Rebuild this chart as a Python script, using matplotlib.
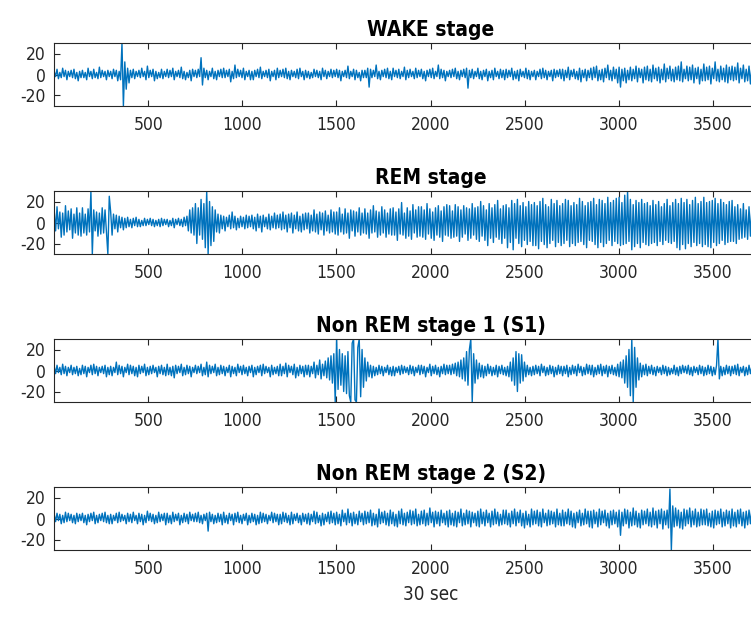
import numpy as np
import matplotlib as mpl
mpl.use('Agg')
import matplotlib.pyplot as plt

# Panel titles and axis labels
titles = ['WAKE stage', 'REM stage', 'Non REM stage 1 (S1)', 'Non REM stage 2 (S2)']
x_label = '30 sec'
x_ticks = [500, 1000, 1500, 2000, 2500, 3000, 3500]
y_ticks = [-20, 0, 20]

# values every 7.5 samples (500 per panel, 20 per row = 150 samples)
step = 7.5

wake = [3, -2, 5, -4, 2, -3, 6, -2, 4, -5, 3, -2, 4, -3, 5, -4, 2, -6, 3, -3,
        4, -3, 2, -5, 6, -2, 3, -4, 5, -3, 2, -4, 7, -3, 4, -2, 3, -5, 4, -2,
        3, -4, 5, -2, 4, -6, 3, -5, 30, -30, 12, -14, 6, -8, 4, -3, 5, -4, 3, -2,
        4, -3, 6, -2, 3, -5, 8, -3, 4, -2, 5, -6, 3, -4, 2, -3, 5, -4, 3, -2,
        5, -3, 4, -2, 6, -5, 3, -2, 4, -3, 7, -4, 3, -5, 2, -3, 4, -6, 5, -2,
        4, -3, 5, -2, 16, -10, 6, -3, 4, -5, 3, -2, 6, -4, 3, -5, 4, -2, 5, -3,
        6, -3, 4, -2, 5, -7, 3, -4, 9, -3, 5, -2, 4, -3, 6, -5, 3, -2, 4, -5,
        3, -5, 4, -2, 5, -3, 7, -4, 3, -2, 4, -3, 5, -6, 3, -2, 4, -5, 6, -3,
        4, -2, 5, -3, 6, -4, 3, -5, 4, -2, 3, -3, 5, -4, 6, -2, 3, -5, 4, -3,
        3, -4, 2, -3, 5, -2, 4, -3, 3, -5, 6, -2, 4, -4, 3, -2, 5, -3, 4, -2,
        5, -3, 4, -6, 3, -2, 4, -3, 8, -4, 3, -2, 5, -5, 4, -3, 2, -6, 4, -3,
        4, -3, 6, -12, 5, -3, 4, -2, 9, -4, 3, -5, 4, -2, 5, -3, 6, -4, 3, -5,
        6, -2, 4, -3, 5, -4, 3, -2, 7, -5, 4, -3, 5, -2, 3, -4, 6, -3, 4, -2,
        5, -4, 3, -6, 4, -2, 5, -3, 6, -4, 3, -2, 9, -4, 5, -3, 4, -6, 3, -2,
        4, -3, 5, -2, 6, -4, 3, -5, 4, -2, 5, -3, 6, -13, 4, -3, 5, -4, 3, -2,
        6, -4, 3, -5, 4, -2, 5, -6, 3, -3, 4, -5, 6, -2, 3, -4, 5, -3, 4, -5,
        5, -3, 4, -2, 6, -5, 3, -4, 4, -6, 5, -2, 3, -3, 6, -4, 4, -5, 3, -2,
        4, -5, 3, -2, 5, -4, 6, -3, 4, -5, 3, -2, 4, -6, 5, -3, 4, -2, 5, -4,
        5, -6, 4, -3, 7, -5, 4, -2, 5, -4, 3, -5, 6, -7, 4, -3, 5, -6, 4, -3,
        6, -5, 7, -3, 8, -6, 4, -5, 5, -7, 6, -3, 9, -5, 4, -6, 7, -4, 5, -8,
        7, -12, 5, -6, 6, -8, 4, -5, 7, -6, 5, -4, 8, -7, 6, -3, 5, -8, 7, -5,
        8, -6, 5, -7, 9, -4, 6, -6, 7, -8, 5, -5, 10, -7, 6, -4, 8, -6, 5, -7,
        7, -5, 8, -6, 12, -7, 5, -4, 8, -6, 7, -5, 9, -8, 6, -4, 7, -9, 5, -6,
        10, -6, 7, -5, 8, -9, 6, -4, 12, -6, 5, -7, 8, -5, 6, -7, 9, -8, 7, -5,
        8, -6, 7, -5, 11, -8, 6, -4, 9, -7, 5, -6, 8, -9, 7, -5, 10, -7, 6, -5]

rem = [12, -8, 15, -6, 10, -14, 9, -12, 16, -9, 11, -7, 13, -15, 8, -10, 14, -12, 9, -13,
       14, -10, 8, -12, 13, -9, 30, -30, 12, -8, 10, -13, 9, -11, 14, -10, 12, -9, -30, 25,
       10, -12, 8, -6, 7, -9, 6, -5, 5, -7, 4, -5, 5, -4, 3, -5, 4, -3, 5, -4,
       3, -4, 2, -3, 4, -3, 3, -2, 4, -3, 3, -4, 2, -3, 3, -4, 4, -3, 3, -2,
       3, -4, 2, -3, 4, -5, 3, -2, 4, -3, 3, -4, 5, -3, 6, -8, 12, -10, 14, -12,
       18, -20, 14, -12, 22, -16, 18, -24, 30, -30, 20, -22, 15, -18, 12, -9, 8, -10, 7, -6,
       6, -8, 5, -4, 7, -6, 10, -5, 6, -7, 4, -5, 6, -4, 5, -6, 7, -5, 6, -4,
       7, -6, 5, -8, 8, -5, 6, -9, 7, -4, 5, -6, 8, -7, 6, -5, 9, -6, 7, -5,
       8, -7, 10, -6, 7, -9, 8, -5, 9, -10, 7, -6, 10, -8, 6, -9, 8, -7, 9, -6,
       9, -10, 7, -8, 12, -9, 8, -11, 10, -7, 9, -12, 11, -8, 7, -10, 12, -9, 10, -11,
       10, -12, 14, -9, 8, -11, 13, -10, 9, -15, 12, -8, 11, -13, 10, -9, 14, -12, 9, -10,
       13, -11, 9, -15, 12, -10, 16, -9, 11, -14, 10, -12, 15, -10, 12, -14, 9, -11, 13, -12,
       14, -12, 10, -17, 13, -11, 19, -12, 9, -15, 14, -13, 11, -16, 17, -10, 12, -14, 15, -13,
       15, -14, 12, -16, 18, -11, 13, -15, 10, -17, 14, -12, 16, -14, 11, -18, 15, -12, 17, -13,
       16, -15, 11, -14, 17, -13, 15, -18, 12, -14, 16, -11, 14, -17, 13, -15, 18, -12, 14, -16,
       15, -18, 20, -13, 16, -17, 12, -22, 18, -15, 14, -19, 17, -14, 21, -16, 13, -20, 16, -15,
       17, -24, 14, -19, 21, -26, 18, -15, 22, -20, 16, -23, 19, -17, 15, -21, 20, -18, 17, -22,
       19, -22, 16, -25, 20, -18, 23, -21, 17, -24, 15, -20, 22, -17, 18, -23, 21, -19, 16, -22,
       18, -20, 22, -17, 21, -23, 16, -20, 19, -22, 17, -19, 23, -18, 20, -21, 16, -24, 19, -17,
       20, -18, 23, -21, 17, -24, 22, -19, 21, -23, 18, -20, 24, -17, 19, -22, 21, -18, 23, -20,
       24, -22, 19, -21, 26, -20, 30, -18, 22, -26, 17, -23, 21, -20, 19, -24, 22, -19, 18, -21,
       19, -22, 16, -20, 21, -19, 17, -22, 20, -18, 15, -21, 18, -17, 22, -19, 16, -20, 19, -18,
       22, -24, 18, -26, 23, -21, 19, -25, 22, -20, 17, -23, 21, -19, 24, -22, 18, -20, 20, -23,
       24, -21, 19, -23, 20, -24, 21, -19, 23, -22, 18, -20, 22, -17, 19, -21, 17, -19, 20, -18,
       21, -18, 15, -20, 17, -16, 13, -15, 18, -14, 12, -16, 15, -13, 14, -12, 16, -14, 13, -15]

s1 = [4, -3, 5, -2, 3, -4, 6, -3, 4, -5, 3, -2, 5, -4, 3, -3, 4, -5, 2, -4,
      5, -3, 4, -6, 3, -2, 5, -4, 6, -3, 4, -5, 3, -2, 4, -3, 5, -6, 3, -4,
      4, -5, 3, -2, 8, -4, 5, -3, 4, -6, 3, -2, 6, -4, 5, -3, 4, -5, 3, -6,
      5, -3, 4, -2, 6, -5, 3, -4, 4, -3, 5, -2, 3, -6, 4, -3, 5, -4, 3, -5,
      6, -4, 3, -5, 4, -7, 5, -3, 4, -2, 6, -5, 3, -4, 5, -3, 4, -6, 3, -2,
      5, -3, 4, -2, 6, -5, 3, -4, 8, -6, 5, -3, 4, -2, 6, -5, 3, -4, 5, -3,
      4, -5, 3, -2, 5, -6, 4, -3, 3, -5, 6, -2, 4, -4, 5, -3, 3, -5, 4, -2,
      5, -6, 3, -4, 4, -2, 5, -5, 6, -3, 4, -2, 3, -6, 5, -4, 3, -3, 4, -5,
      6, -5, 4, -3, 7, -6, 5, -2, 4, -4, 6, -7, 3, -5, 5, -3, 4, -6, 5, -4,
      5, -6, 4, -3, 8, -7, 5, -4, 10, -8, 6, -5, 9, -7, 12, -9, 14, -12, 16, -30,
      30, -18, 20, -14, 16, -20, 14, -22, 18, -24, -30, 26, 30, -28, -30, 22, 30, -25, 20, -16,
      12, -10, 8, -6, 5, -7, 4, -5, 3, -4, 5, -3, 4, -5, 3, -2, 5, -4, 3, -5,
      4, -5, 3, -2, 4, -4, 5, -3, 4, -2, 3, -4, 5, -3, 4, -5, 3, -2, 5, -4,
      5, -3, 4, -6, 3, -2, 6, -5, 4, -3, 5, -4, 3, -6, 4, -3, 6, -4, 5, -3,
      5, -4, 6, -3, 7, -5, 8, -6, 10, -8, 12, -10, 18, -14, 20, 30, -30, 16, -12, 10,
      -8, 7, -6, 5, -7, 4, -5, 6, -3, 4, -5, 3, -4, 5, -6, 4, -3, 5, -4, 3,
      -5, 4, -6, 8, -10, 12, -14, 18, -20, 16, -12, 15, -10, 8, -6, 5, -4, 3, -5, 4,
      -4, 5, -3, 4, -5, 6, -2, 4, -5, 3, -4, 5, -3, 4, -6, 3, -4, 5, -3, 4,
      -5, 4, -3, 5, -6, 3, -4, 5, -3, 4, -5, 6, -2, 4, -5, 3, -4, 6, -3, 5,
      -4, 5, -6, 3, -4, 5, -3, 6, -5, 4, -3, 5, -6, 4, -3, 5, -4, 3, -5, 6,
      -6, 8, -7, 10, -12, 14, -16, 20, -24, 30, -30, 22, -16, 12, -9, 7, -6, 5, -4, 6,
      -5, 4, -3, 5, -4, 3, -5, 4, -2, 3, -4, 5, -3, 4, -5, 3, -4, 2, -3, 5,
      -4, 3, -5, 4, -3, 5, -2, 4, -3, 5, -4, 3, -5, 4, -2, 3, -4, 5, -3, 4,
      -5, 3, -4, 5, -3, 4, -5, 3, -4, 5, 30, -8, 4, -5, 3, -4, 5, -3, 4, -5,
      4, -3, 5, -4, 6, -5, 3, -2, 4, -5, 3, -4, 5, -3, 4, -2, 6, -4, 3, -5]

s2 = [4, -3, 5, -2, 4, -5, 3, -4, 6, -3, 5, -2, 4, -4, 3, -5, 5, -3, 4, -2,
      5, -4, 3, -6, 4, -3, 5, -2, 6, -5, 3, -4, 4, -2, 5, -3, 6, -4, 3, -5,
      4, -5, 3, -2, 5, -4, 6, -3, 4, -2, 3, -5, 5, -3, 4, -4, 6, -2, 3, -5,
      5, -3, 4, -6, 3, -4, 7, -2, 5, -3, 4, -5, 3, -4, 6, -3, 4, -2, 5, -6,
      5, -4, 3, -5, 6, -3, 4, -2, 5, -6, 3, -4, 5, -3, 4, -5, 6, -2, 4, -3,
      5, -3, 6, -4, 3, -5, 4, -2, 5, -12, 6, -3, 4, -5, 3, -4, 5, -3, 4, -6,
      6, -4, 3, -5, 5, -2, 4, -6, 5, -3, 6, -4, 3, -5, 4, -2, 5, -6, 3, -4,
      5, -3, 4, -6, 3, -5, 6, -4, 5, -3, 4, -5, 3, -2, 6, -4, 5, -3, 4, -6,
      4, -5, 6, -3, 5, -4, 3, -6, 6, -5, 4, -2, 5, -4, 3, -6, 5, -3, 4, -5,
      5, -6, 4, -3, 7, -5, 6, -4, 3, -7, 5, -6, 4, -3, 6, -5, 7, -4, 5, -6,
      6, -5, 4, -7, 8, -3, 5, -6, 9, -4, 5, -7, 6, -5, 4, -6, 7, -3, 5, -6,
      7, -5, 6, -4, 8, -7, 5, -6, 4, -8, 9, -5, 6, -4, 7, -6, 5, -7, 8, -5,
      6, -7, 4, -8, 7, -5, 9, -6, 5, -7, 6, -4, 8, -6, 7, -5, 9, -7, 4, -6,
      7, -5, 8, -7, 5, -6, 10, -4, 6, -8, 7, -5, 6, -7, 8, -4, 5, -6, 7, -8,
      8, -6, 5, -7, 7, -8, 6, -4, 9, -7, 5, -6, 8, -5, 7, -8, 6, -4, 5, -7,
      7, -8, 9, -5, 6, -7, 8, -4, 5, -8, 7, -6, 9, -5, 6, -7, 4, -6, 8, -5,
      8, -6, 5, -8, 7, -5, 9, -7, 6, -4, 8, -7, 5, -9, 7, -6, 4, -8, 9, -6,
      7, -5, 8, -7, 6, -8, 9, -4, 5, -7, 8, -6, 7, -5, 6, -8, 9, -6, 5, -7,
      8, -7, 6, -5, 9, -6, 7, -8, 5, -9, 6, -4, 8, -7, 5, -6, 9, -5, 7, -8,
      7, -9, 8, -5, 6, -8, 9, -6, 7, -4, 8, -7, 5, -9, 7, -6, 8, -5, 6, -8,
      8, -16, 6, -7, 9, -5, 8, -9, 6, -7, 10, -6, 7, -8, 5, -9, 8, -6, 7, -5,
      9, -7, 6, -8, 10, -6, 7, -9, 8, -5, 9, -10, 7, -6, 8, -9, 28, -30, 12, -8,
      10, -7, 8, -9, 6, -10, 9, -7, 8, -5, 10, -8, 7, -6, 9, -8, 6, -7, 9, -6,
      8, -6, 9, -7, 5, -8, 7, -9, 8, -6, 7, -5, 9, -8, 6, -7, 8, -5, 7, -9,
      9, -7, 6, -8, 8, -5, 9, -7, 6, -9, 7, -6, 8, -5, 9, -7, 6, -8, 7, -6]

signals = [wake, rem, s1, s2]

line_color = '#0072BD'
axis_color = '#262626'
plt.rcParams['font.family'] = ['DejaVu Sans']
plt.rcParams['font.stretch'] = 'condensed'
plt.rcParams['axes.unicode_minus'] = False

fig = plt.figure(figsize=(7.51, 6.3), dpi=100)
W, H = 751.0, 630.0
ax_left = 54  # px
ax_top = [43, 191, 339, 487]  # px from top
ax_h = 63
px_per_unit = 0.1883
x_max = 4000  # axes runs past the right edge of the picture

for i, (title, sig) in enumerate(zip(titles, signals)):
    ax = fig.add_axes([ax_left / W, 1 - (ax_top[i] + ax_h) / H,
                       x_max * px_per_unit / W, ax_h / H])
    x = np.arange(len(sig)) * step + 1
    ax.plot(x, sig, color=line_color, linewidth=1.0)
    ax.set_xlim(0, x_max)
    ax.set_ylim(-30, 30)
    ax.set_xticks(x_ticks)
    ax.set_yticks(y_ticks)
    ax.tick_params(direction='in', top=True, right=True, length=4, width=0.8,
                   colors=axis_color, labelsize=12.5, pad=7)
    ax.tick_params(axis='y', pad=6)
    for sp in ax.spines.values():
        sp.set_color(axis_color)
        sp.set_linewidth(0.8)
    ax.set_title(title, fontsize=15, fontweight='bold', pad=5)
    if i == 3:
        ax.set_xlabel(x_label, fontsize=13.5, color=axis_color, labelpad=5)

plt.savefig('out.png', dpi=100)
